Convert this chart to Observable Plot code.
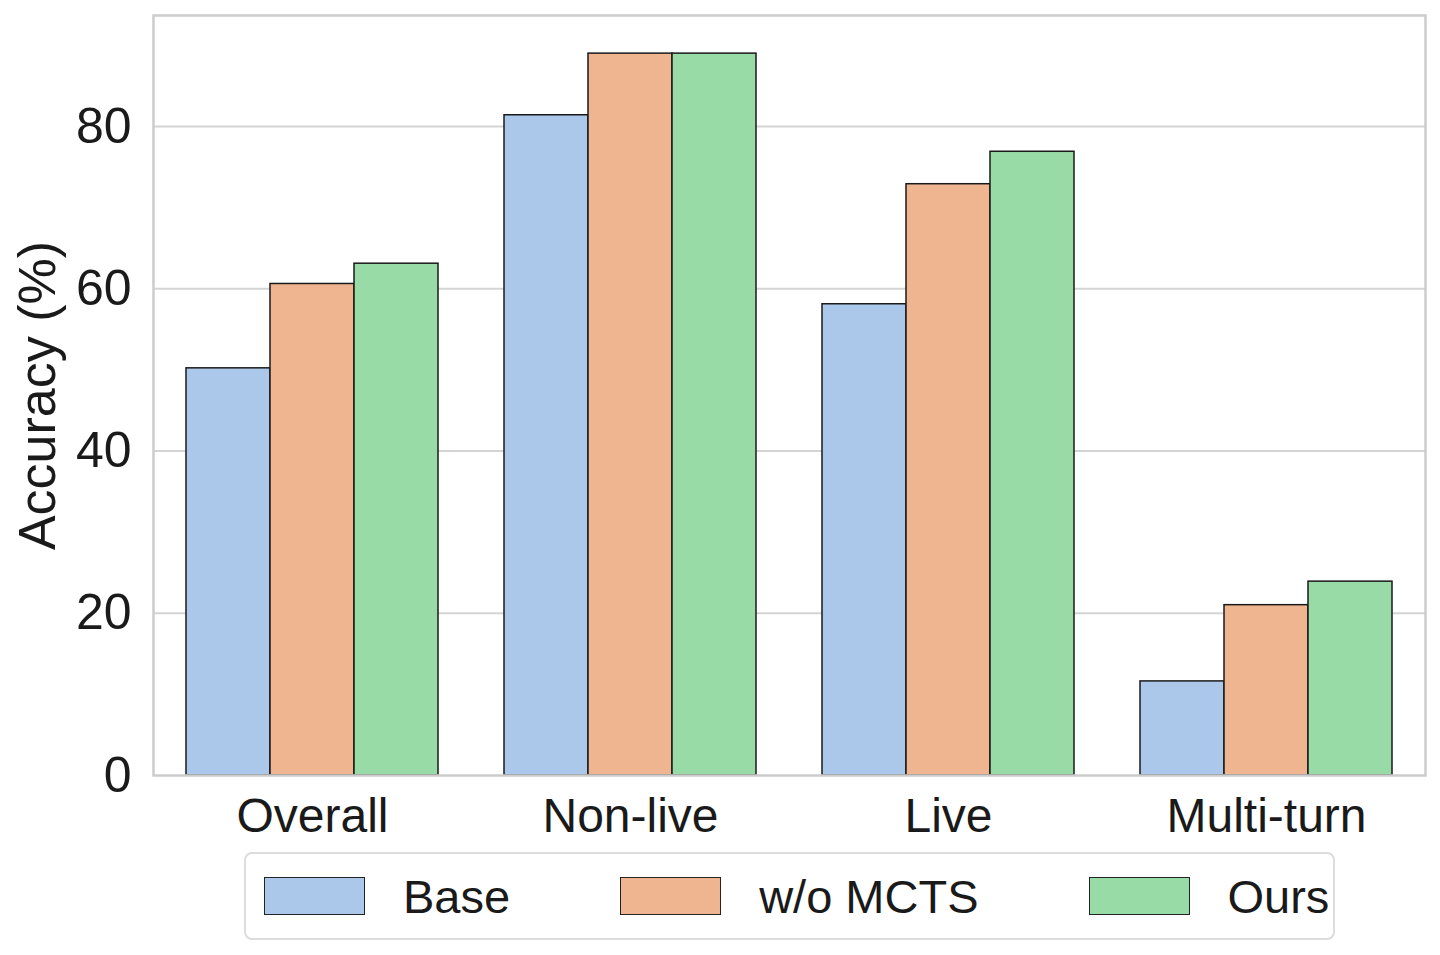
<!DOCTYPE html>
<html><head><meta charset="utf-8">
<script src="https://cdn.jsdelivr.net/npm/d3@7"></script>
<script src="https://cdn.jsdelivr.net/npm/@observablehq/plot@0.6"></script>
<style>
body{margin:0;background:#fff;font-family:"Liberation Sans",Arial,sans-serif;}
#chart{position:relative;width:1440px;height:955px;}
#chart svg{position:absolute;left:0;top:0;}
.legend{position:absolute;left:244px;top:852px;width:1091px;height:88px;box-sizing:border-box;border:2px solid #dcdcdc;border-radius:8px;display:flex;align-items:center;padding-left:18px;font-size:47px;color:#1a1a1a;white-space:nowrap;background:#fff;overflow:hidden;}
.item{display:flex;align-items:center;margin-right:110px;flex-shrink:0}
.sw{width:101px;height:38px;border:1.5px solid #222;box-sizing:border-box;margin-right:38px;flex-shrink:0}
</style></head>
<body><div id="chart"></div>
<script>
const categories = ["Overall","Non-live","Live","Multi-turn"];
const series = ["Base","w/o MCTS","Ours"];
const baseValues = [50.2,81.4,58.1,11.6];
const woMctsValues = [60.6,89.0,72.9,21.0];
const oursValues = [63.1,89.0,76.9,23.9];
const yTicks = [0,20,40,60,80];
const colors = ["#abc8ea","#efb591","#98dba6"];
const yLabel = "Accuracy (%)";

const valuesBySeries = [baseValues, woMctsValues, oursValues];
const data = categories.flatMap((c,i)=>series.map((s,j)=>({category:c, series:s, value:valuesBySeries[j][i]})));

const plot = Plot.plot({
  width:1440, height:860,
  marginLeft:153, marginRight:15, marginTop:15, marginBottom:85,
  style:{fontFamily:'"Liberation Sans",Arial,sans-serif', fontSize:"48px", color:"#1a1a1a", background:"#fff"},
  fx:{domain:categories, paddingInner:0.2, paddingOuter:0.1, label:null},
  x:{domain:series, padding:0, axis:null},
  y:{domain:[0,93.7]},
  color:{domain:series, range:colors},
  marks:[
    Plot.ruleY(yTicks.slice(1), {stroke:"#d4d4d4", strokeWidth:2, insetLeft:-32, insetRight:-32}),
    Plot.barY(data,{fx:"category", x:"series", y:"value", fill:"series", stroke:"#1a1a1a", strokeWidth:1.5}),
    Plot.frame({facet:"super", stroke:"#cccccc", strokeWidth:2.5, insetLeft:-32, insetRight:-32}),
    Plot.axisY({ticks:yTicks, tickSize:0, tickPadding:54, fontSize:50, label:null, fill:"#1a1a1a"}),
    Plot.text([yLabel], {facet:"super", frameAnchor:"left", textAnchor:"middle", lineAnchor:"middle", rotate:-90, dx:-147, fontSize:52, fill:"#1a1a1a"}),
    Plot.axisFx({anchor:"bottom", tickSize:0, tickPadding:22, fontSize:48, label:null, fill:"#1a1a1a"})
  ]
});
document.getElementById("chart").appendChild(plot);

const legend = document.createElement("div");
legend.className = "legend";
series.forEach((s,i)=>{
  const item = document.createElement("div");
  item.className = "item";
  const sw = document.createElement("div");
  sw.className = "sw";
  sw.style.background = colors[i];
  const t = document.createElement("span");
  t.textContent = s;
  item.appendChild(sw); item.appendChild(t);
  legend.appendChild(item);
});
document.getElementById("chart").appendChild(legend);
</script>
</body></html>
